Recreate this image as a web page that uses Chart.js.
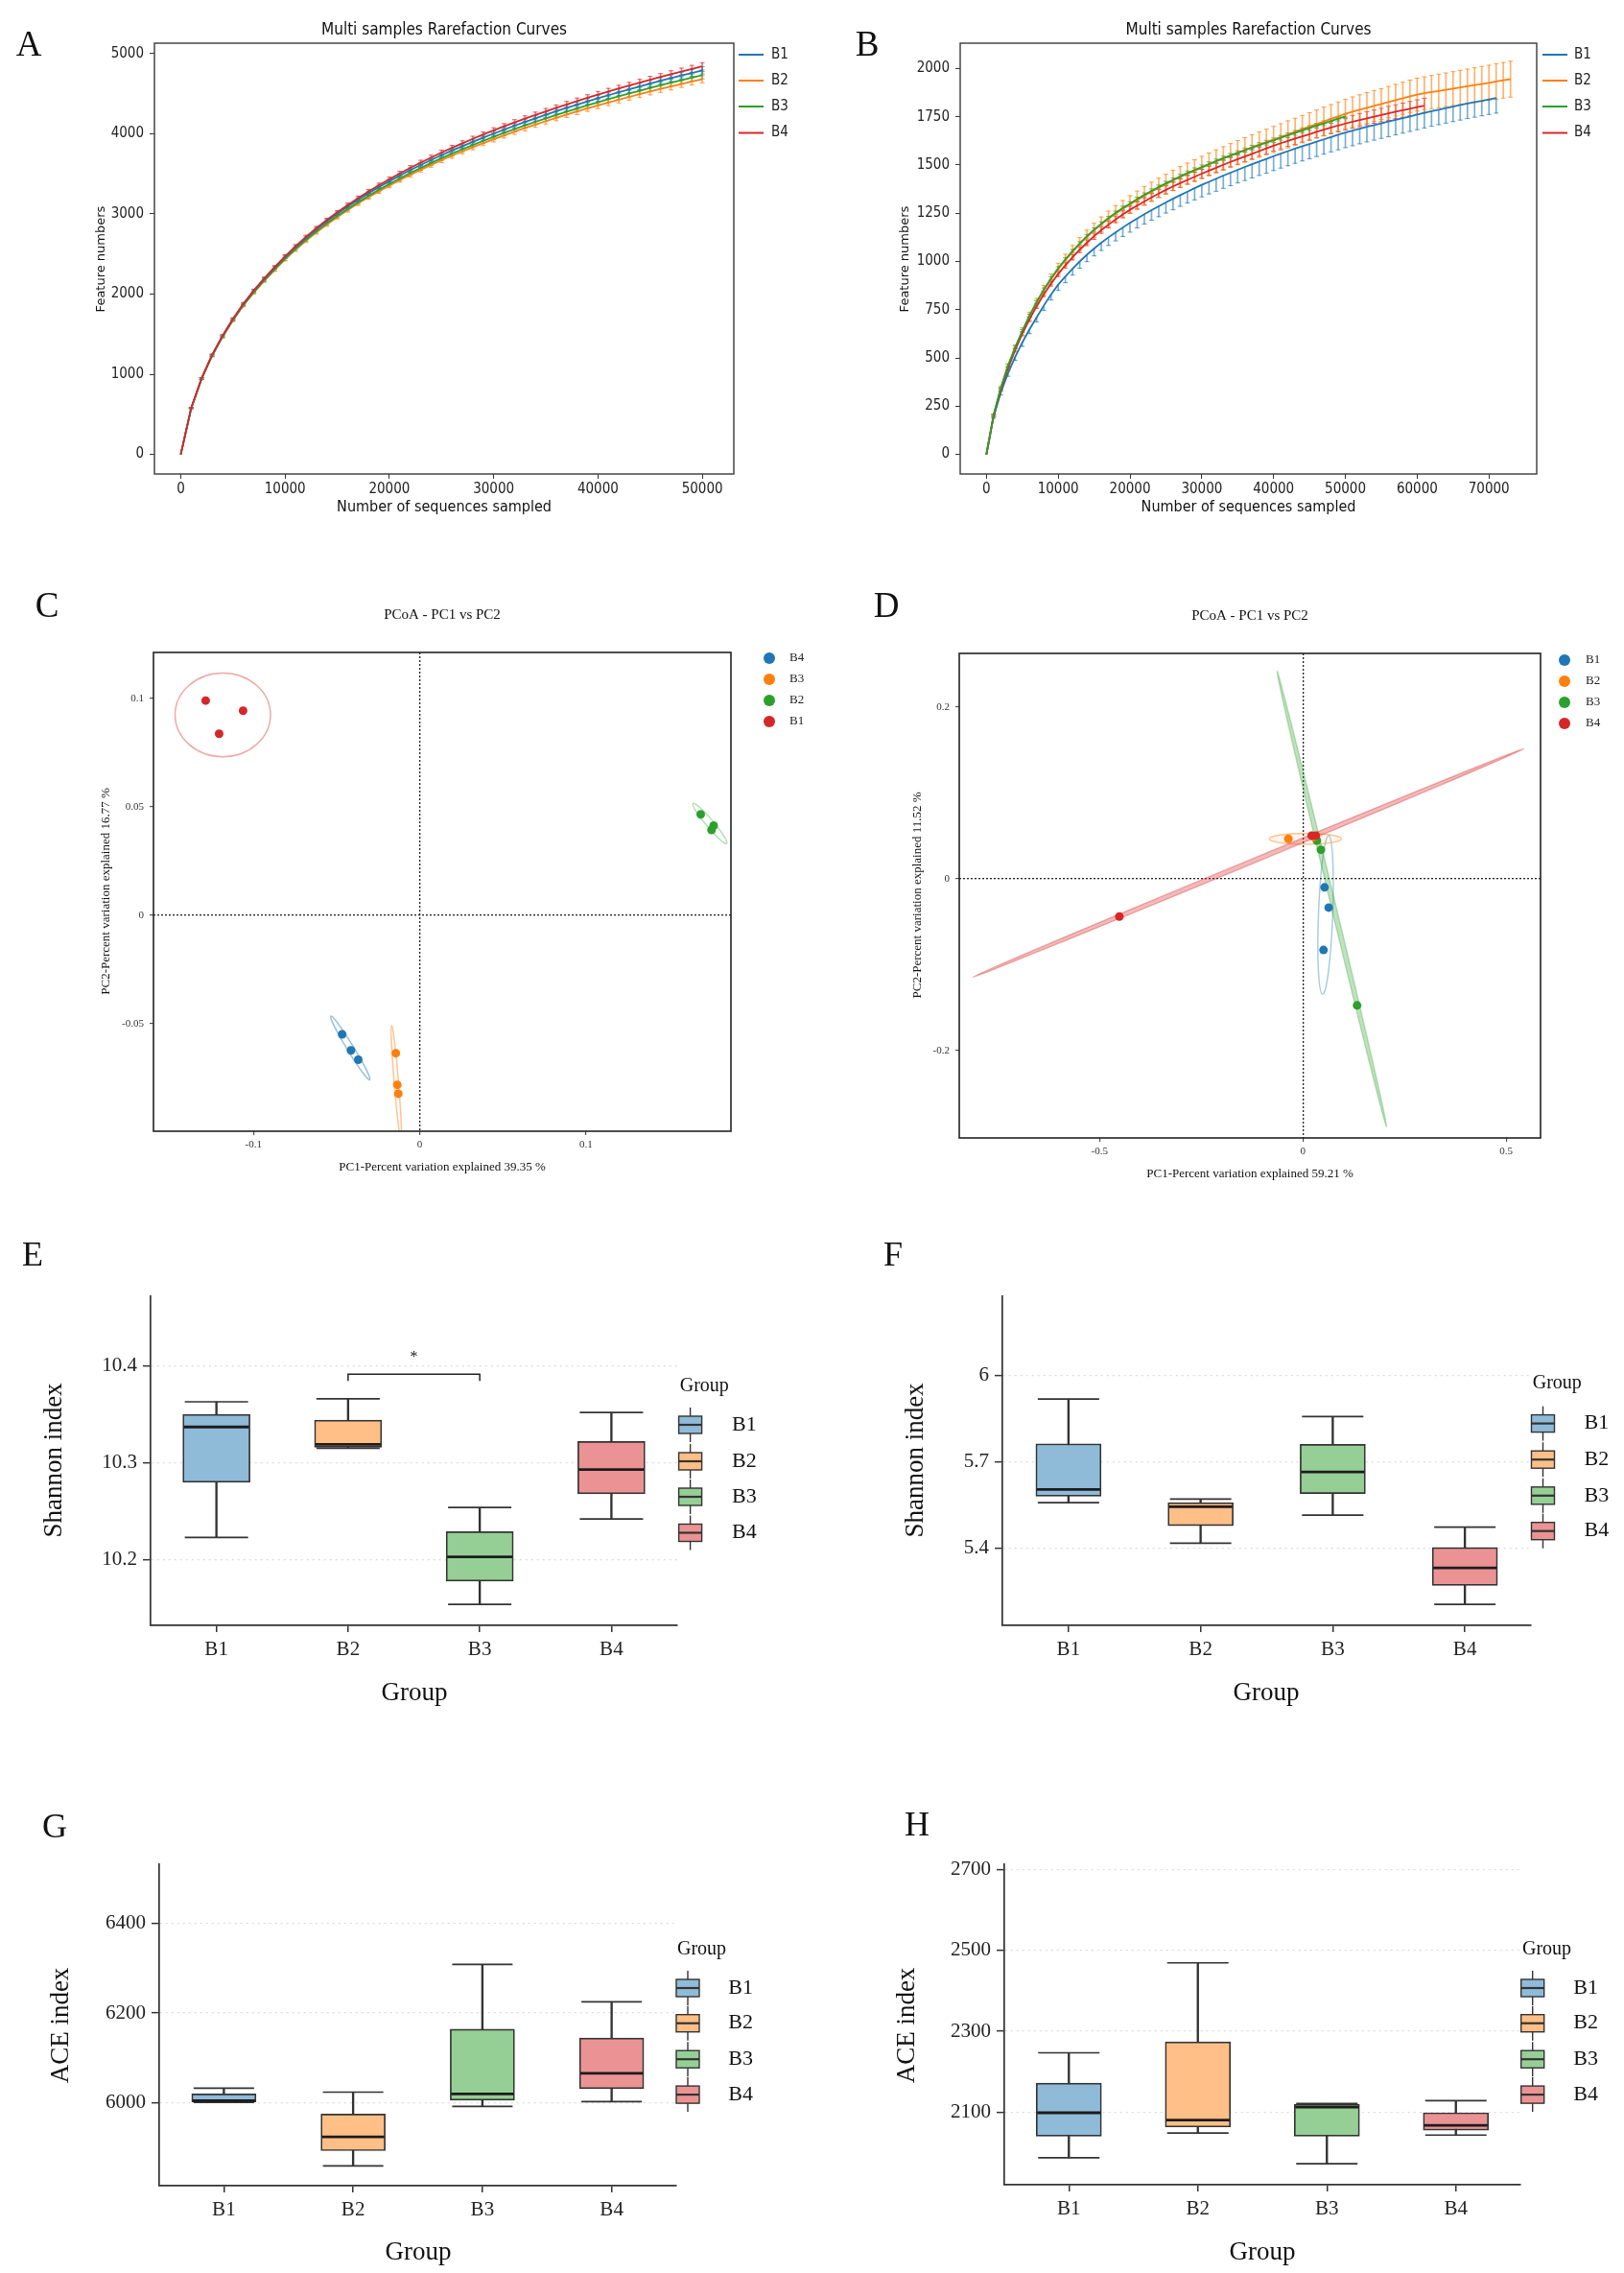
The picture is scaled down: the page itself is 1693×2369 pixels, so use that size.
<!DOCTYPE html>
<html>
<head>
<meta charset="utf-8">
<title>Rarefaction, PCoA and alpha diversity</title>
<script src="https://cdn.jsdelivr.net/npm/chart.js@4.4.0/dist/chart.umd.min.js"></script>
<style>
  html, body { margin: 0; padding: 0; background: #fff; }
  #page { position: relative; width: 1693px; height: 2369px; overflow: hidden; }
  .panel { position: absolute; }
</style>
</head>
<body>
<div id="page">
  <div class="panel" id="pA"><canvas></canvas></div>
  <div class="panel" id="pB"><canvas></canvas></div>
  <div class="panel" id="pC"><canvas></canvas></div>
  <div class="panel" id="pD"><canvas></canvas></div>
  <div class="panel" id="pE"><canvas></canvas></div>
  <div class="panel" id="pF"><canvas></canvas></div>
  <div class="panel" id="pG"><canvas></canvas></div>
  <div class="panel" id="pH"><canvas></canvas></div>
</div>
<script>
// ---------------- data ----------------
var groups = ["B1", "B2", "B3", "B4"];

// sequencing depth of each rarefaction step
var depth = [0,1000,2000,3000,4000,5000,6000,7000,8000,9000,10000,11000,12000,13000,14000,15000,16000,17000,18000,19000,
  20000,21000,22000,23000,24000,25000,26000,27000,28000,29000,30000,31000,32000,33000,34000,35000,36000,37000,38000,39000,
  40000,41000,42000,43000,44000,45000,46000,47000,48000,49000,50000,51000,52000,53000,54000,55000,56000,57000,58000,59000,
  60000,61000,62000,63000,64000,65000,66000,67000,68000,69000,70000,71000,72000,73000];

// panel A - feature numbers
var rareA_B1 = [0,579,948,1237,1476,1685,1874,2038,2187,2327,2461,2584,2699,2806,2907,3001,3091,3176,3257,3333,3407,3477,3545,3609,3671,3731,3789,3844,3898,3950,4000,4050,4099,4145,4191,4235,4279,4321,4362,4402,4441,4479,4517,4553,4589,4624,4659,4692,4725,4757,4789];
var rareA_B2 = [0,576,942,1228,1464,1670,1856,2017,2163,2300,2431,2552,2664,2769,2867,2959,3046,3129,3207,3281,3352,3421,3487,3550,3610,3669,3725,3779,3831,3882,3930,3979,4025,4070,4113,4156,4197,4238,4276,4315,4351,4388,4423,4458,4491,4525,4557,4589,4619,4650,4679];
var rareA_B3 = [0,577,944,1231,1468,1675,1862,2024,2171,2309,2441,2563,2676,2782,2881,2974,3062,3146,3225,3300,3372,3442,3509,3573,3634,3694,3751,3806,3859,3911,3960,4010,4057,4103,4147,4191,4233,4275,4314,4354,4391,4429,4465,4501,4535,4570,4603,4636,4667,4699,4729];
var rareA_B4 = [0,580,950,1240,1480,1690,1880,2045,2195,2336,2471,2596,2712,2821,2923,3019,3110,3197,3279,3357,3432,3504,3573,3639,3702,3764,3823,3880,3935,3989,4040,4091,4140,4187,4233,4278,4322,4365,4406,4447,4486,4525,4563,4600,4636,4672,4707,4741,4774,4807,4839];
var errA = [0,8,10,12,13,14,15,16,17,18,19,20,21,22,22,23,24,25,25,26,27,27,28,29,29,30,31,31,32,32,33,34,34,35,35,36,36,37,38,38,39,39,40,40,41,42,42,43,43,44,45];

// panel B - feature numbers
var rareB_B1 = [0,195,320,420,505,580,648,710,772,828,880,922,962,1000,1035,1067,1097,1125,1151,1176,1200,1223,1245,1266,1286,1306,1325,1344,1362,1380,1397,1413,1429,1445,1460,1475,1490,1504,1518,1532,1546,1559,1572,1585,1597,1609,1621,1633,1645,1657,1668,1678,1688,1698,1707,1716,1725,1734,1743,1752,1761,1770,1779,1787,1795,1803,1811,1819,1826,1833,1840,1847];
var rareB_B2 = [0,202,342,457,552,637,716,786,851,908,961,1007,1050,1090,1127,1161,1192,1221,1248,1273,1296,1319,1341,1362,1382,1401,1420,1438,1455,1471,1487,1503,1519,1534,1549,1564,1578,1592,1606,1619,1632,1645,1659,1672,1686,1699,1712,1726,1739,1752,1765,1776,1786,1796,1806,1816,1826,1836,1846,1856,1865,1872,1878,1884,1890,1896,1902,1908,1914,1920,1926,1933,1939,1945];
var rareB_B3 = [0,205,345,460,555,640,720,790,855,912,965,1011,1054,1094,1131,1165,1196,1225,1252,1277,1300,1323,1345,1366,1386,1405,1423,1441,1458,1474,1489,1505,1520,1535,1549,1563,1577,1590,1603,1616,1628,1641,1654,1667,1680,1692,1704,1716,1728,1740,1752];
var rareB_B4 = [0,200,335,445,540,625,700,768,830,885,935,980,1022,1061,1097,1131,1162,1191,1218,1244,1268,1290,1311,1332,1352,1371,1389,1406,1423,1439,1455,1471,1486,1501,1516,1530,1544,1558,1572,1586,1600,1613,1625,1637,1649,1660,1672,1683,1694,1705,1715,1724,1733,1742,1751,1759,1768,1776,1784,1792,1800,1808];
// B1 bars only hang below its curve, the others are symmetric
var errB_B1 = [0,8,12,15,18,20,22,24,26,28,30,32,33,35,36,38,40,42,44,46,48,49,51,52,54,55,57,58,59,61,62,63,65,66,67,68,70,71,72,74,75,75,76,76,76,77,77,77,77,78,78,78,78,78,78,78,78,78,78,78,78,78,78,78,78,78,78,78,78,78,78,78];
var errB_B2 = [0,6,10,13,16,19,21,23,25,27,30,31,33,34,36,37,39,40,42,43,45,46,48,49,50,51,53,54,55,56,58,59,60,61,62,63,64,65,66,67,68,69,70,70,71,72,73,74,74,75,76,77,78,79,80,80,81,82,83,84,85,85,86,87,87,88,89,89,90,91,91,92,92,93];
var errB_B3 = [0,4,5,6,6,7,7,7,8,8,8,8,8,9,9,9,9,9,9,10,10,10,10,10,10,10,10,11,11,11,11,11,11,11,11,11,11,12,12,12,12,12,12,12,12,12,12,12,12,12,12];
var errB_B4 = [0,5,7,8,9,10,11,11,12,12,13,14,14,15,15,16,16,17,17,18,18,19,19,20,20,21,21,22,22,23,23,24,24,25,25,26,26,27,27,28,28,29,29,30,30,31,31,32,32,33,33,33,34,34,35,35,36,36,37,37,38,38];

var tickA_x = [0, 10000, 20000, 30000, 40000, 50000];
var tickA_y = [0, 1000, 2000, 3000, 4000, 5000];
var tickB_x = [0, 10000, 20000, 30000, 40000, 50000, 60000, 70000];
var tickB_y = [0, 250, 500, 750, 1000, 1250, 1500, 1750, 2000];

// panel C - PCoA scores (legend order of the original: B4, B3, B2, B1)
var legendC = ["B4", "B3", "B2", "B1"];
var pcC_B4 = [[-0.0467, -0.0549], [-0.0414, -0.0623], [-0.0370, -0.0666]];
var pcC_B3 = [[-0.0144, -0.0636], [-0.0135, -0.0782], [-0.0129, -0.0823]];
var pcC_B2 = [[0.1690, 0.0466], [0.1768, 0.0414], [0.1755, 0.0394]];
var pcC_B1 = [[-0.1288, 0.0991], [-0.1063, 0.0944], [-0.1207, 0.0838]];
// confidence ellipses: centre x, centre y, half axis 1, half axis 2, angle (deg)
var ellC_B4 = [-0.0418, -0.0612, 0.0188, 0.0018, -51.4];
var ellC_B3 = [-0.0141, -0.0771, 0.0265, 0.0013, -83.9];
var ellC_B2 = [0.1745, 0.0424, 0.0137, 0.0020, -42.0];
var ellC_B1 = [-0.1185, 0.0925, 0.0287, 0.0193, 0];
var tickC_x = [-0.1, 0, 0.1];
var tickC_y = [-0.05, 0, 0.05, 0.1];

// panel D - PCoA scores
var legendD = ["B1", "B2", "B3", "B4"];
var pcD_B1 = [[0.0534, -0.0099], [0.0635, -0.0334], [0.0508, -0.0828]];
var pcD_B2 = [[-0.0356, 0.0466], [0.0250, 0.0500], [0.0280, 0.0490]];
var pcD_B3 = [[0.0343, 0.0447], [0.0445, 0.0339], [0.1334, -0.1473]];
var pcD_B4 = [[0.0216, 0.0504], [0.0318, 0.0504], [-0.4511, -0.0438]];
var ellD_B1 = [0.0559, -0.0419, 0.0926, 0.0175, 85.3];
var ellD_B2 = [0.0064, 0.0466, 0.0890, 0.0064, 0];
var ellD_B3 = [0.0712, -0.0233, 0.2974, 0.0054, -63.1];
var ellD_B4 = [-0.1340, 0.0186, 0.6896, 0.0028, 11.1];
var tickD_x = [-0.5, 0, 0.5];
var tickD_y = [-0.2, 0, 0.2];

// panels E-H - box statistics per group: [min, q1, median, q3, max]
var shannonE = [[10.223, 10.280, 10.337, 10.350, 10.363], [10.315, 10.316, 10.319, 10.344, 10.366],
                [10.154, 10.178, 10.203, 10.229, 10.254], [10.242, 10.268, 10.293, 10.322, 10.352]];
var shannonF = [[5.558, 5.581, 5.604, 5.763, 5.919], [5.417, 5.478, 5.544, 5.558, 5.571],
                [5.515, 5.590, 5.665, 5.761, 5.858], [5.204, 5.270, 5.331, 5.402, 5.473]];
var aceG = [[6000, 6001, 6004, 6019, 6032], [5858, 5892, 5923, 5974, 6023],
            [5991, 6005, 6019, 6164, 6309], [6002, 6031, 6065, 6144, 6225]];
var aceH = [[1988, 2041, 2099, 2172, 2247], [2049, 2064, 2081, 2274, 2469],
            [1973, 2041, 2113, 2120, 2122], [2044, 2056, 2068, 2099, 2129]];
var tickE_y = [10.2, 10.3, 10.4];
var tickF_y = [5.4, 5.7, 6];
var tickG_y = [6000, 6200, 6400];
var tickH_y = [2100, 2300, 2500, 2700];
// significance bracket in E: B2 vs B3, foot / top of bracket, star height
var sigPairE = ["B2", "B3"];
var sigLevelsE = [10.3846, 10.3915, 10.4085];

// ---------------- styles ----------------
var SERIF = "'Liberation Serif', 'Times New Roman', serif";
var NARROW = "'Liberation Sans Narrow', 'DejaVu Sans Condensed', 'DejaVu Sans', sans-serif";
var SANS = "'DejaVu Sans', sans-serif";
var palette = ["#1f77b4", "#ff7f0e", "#2ca02c", "#d62728"];
var boxFill = ["#8fbbd9", "#ffbf86", "#95cf95", "#eb9394"];

Chart.defaults.animation = false;
Chart.defaults.events = [];
Chart.defaults.plugins.legend.display = false;
Chart.defaults.plugins.tooltip.enabled = false;
Chart.defaults.maintainAspectRatio = false;

function fade(hex, a) {
  var n = parseInt(hex.slice(1), 16);
  return "rgba(" + ((n >> 16) & 255) + "," + ((n >> 8) & 255) + "," + (n & 255) + "," + a + ")";
}

// place the holder div on the page and return its canvas
function setup(id, box) {
  var el = document.getElementById(id);
  el.style.left = box.l + "px";
  el.style.top = box.t + "px";
  el.style.width = box.w + "px";
  el.style.height = box.h + "px";
  return el.querySelector("canvas");
}

function padding(box, area) {
  return { left: 0, top: area.T - box.t, right: box.l + box.w - area.R, bottom: 0 };
}

function fixedTicks(list) {
  return function (s) {
    s.ticks = list.map(function (v) { return { value: v }; });
  };
}

// free text: panel letters, titles, axis titles
function notesPlugin(box, items) {
  return {
    id: "notes",
    afterDraw: function (chart) {
      var ctx = chart.ctx;
      items.forEach(function (it) {
        ctx.save();
        ctx.font = it.font;
        ctx.fillStyle = it.color || "#111";
        ctx.textAlign = it.align || "center";
        ctx.textBaseline = "middle";
        ctx.translate(it.x - box.l, it.y - box.t);
        if (it.rot) ctx.rotate(it.rot);
        ctx.fillText(it.text, 0, 0);
        ctx.restore();
      });
    }
  };
}

var framePlugin = {
  id: "frame",
  afterDatasetsDraw: function (chart, args, opts) {
    var a = chart.chartArea, ctx = chart.ctx;
    ctx.save();
    ctx.strokeStyle = opts.color || "#333";
    ctx.lineWidth = opts.width || 1.3;
    ctx.strokeRect(a.left, a.top, a.right - a.left, a.bottom - a.top);
    ctx.restore();
  }
};

// ---------------- rarefaction curves (A, B) ----------------
function lineLegend(box, spec) {
  return {
    id: "lineLegend",
    afterDraw: function (chart) {
      var ctx = chart.ctx;
      groups.forEach(function (g, i) {
        var y = spec.rows[i] - box.t;
        ctx.save();
        ctx.strokeStyle = palette[i];
        ctx.lineWidth = 2;
        ctx.beginPath();
        ctx.moveTo(spec.x0 - box.l, y);
        ctx.lineTo(spec.x1 - box.l, y);
        ctx.stroke();
        ctx.fillStyle = "#222";
        ctx.font = "15px " + NARROW;
        ctx.textAlign = "left";
        ctx.textBaseline = "middle";
        ctx.fillText(g, spec.tx - box.l, y);
        ctx.restore();
      });
    }
  };
}

// lineOrder: drawing rank of each curve, 0 = on top
function rarefaction(id, box, area, series, errLo, errHi, lineOrder, xr, yr, xTicks, yTicks, notes, legend) {
  var ds = [];
  groups.forEach(function (g, i) {
    var ys = series[i], lo = errLo[i], hi = errHi[i];
    var col = palette[i];
    ds.push({
      type: "line", label: g,
      data: ys.map(function (v, k) { return { x: depth[k], y: v }; }),
      borderColor: col, borderWidth: 1.8, pointRadius: 0, order: lineOrder[i] / 10
    });
    ds.push({
      type: "bar",
      data: ys.map(function (v, k) { return { x: depth[k], y: [v - lo[k], v + (hi ? hi[k] : 0)] }; }),
      backgroundColor: fade(col, 0.6), barThickness: 1, grouped: false, order: 2
    });
    var caps = [];
    ys.forEach(function (v, k) {
      if (lo[k] > 0) caps.push({ x: depth[k], y: v - lo[k] });
      if (hi && hi[k] > 0) caps.push({ x: depth[k], y: v + hi[k] });
    });
    ds.push({
      type: "line", data: caps, showLine: false, pointStyle: "line",
      pointRadius: 2.5, pointBorderWidth: 1, pointBorderColor: fade(col, 0.7), order: 2
    });
  });

  new Chart(setup(id, box), {
    type: "line",
    data: { datasets: ds },
    options: {
      responsive: true,
      layout: { padding: padding(box, area) },
      scales: {
        x: {
          type: "linear", min: xr[0], max: xr[1], offset: false,
          grid: { drawOnChartArea: false, offset: false, color: "#333", tickLength: 5 },
          border: { display: false },
          afterBuildTicks: fixedTicks(xTicks),
          ticks: { font: { family: NARROW, size: 15 }, color: "#222", padding: 2, maxRotation: 0, autoSkip: false,
                   callback: function (v) { return String(v); } },
          afterFit: function (s) { s.height = box.t + box.h - area.B; }
        },
        y: {
          type: "linear", min: yr[0], max: yr[1],
          grid: { drawOnChartArea: false, color: "#333", tickLength: 5 },
          border: { display: false },
          afterBuildTicks: fixedTicks(yTicks),
          ticks: { font: { family: NARROW, size: 15 }, color: "#222", padding: 6, autoSkip: false,
                   callback: function (v) { return String(v); } },
          afterFit: function (s) { s.width = area.L - box.l; }
        }
      },
      plugins: { frame: { color: "#3a3a3a", width: 1.4 } }
    },
    plugins: [framePlugin, lineLegend(box, legend), notesPlugin(box, notes)]
  });
}

// ---------------- PCoA (C, D) ----------------
function ellipsePlugin(list, colors, fillAlpha, strokeAlpha, lineW) {
  return {
    id: "ellipses",
    beforeDatasetsDraw: function (chart) {
      var ctx = chart.ctx, xs = chart.scales.x, ys = chart.scales.y, a = chart.chartArea;
      ctx.save();
      ctx.beginPath();
      ctx.rect(a.left, a.top, a.right - a.left, a.bottom - a.top);
      ctx.clip();
      list.forEach(function (e, i) {
        var px = xs.getPixelForValue(e[0]), py = ys.getPixelForValue(e[1]);
        var kx = xs.getPixelForValue(e[0] + 1) - px;
        var ky = ys.getPixelForValue(e[1] + 1) - py;
        ctx.beginPath();
        ctx.save();
        ctx.translate(px, py);
        ctx.scale(kx, ky);
        ctx.rotate(e[4] * Math.PI / 180);
        ctx.ellipse(0, 0, e[2], e[3], 0, 0, 2 * Math.PI);
        ctx.restore();
        if (fillAlpha[i] > 0) {
          ctx.fillStyle = fade(colors[i], fillAlpha[i]);
          ctx.fill();
        }
        ctx.strokeStyle = fade(colors[i], strokeAlpha[i]);
        ctx.lineWidth = lineW;
        ctx.stroke();
      });
      ctx.restore();
    }
  };
}

function dotLegend(box, names, spec) {
  return {
    id: "dotLegend",
    afterDraw: function (chart) {
      var ctx = chart.ctx;
      names.forEach(function (g, i) {
        var y = spec.rows[i] - box.t;
        ctx.save();
        ctx.fillStyle = palette[i];
        ctx.beginPath();
        ctx.arc(spec.dx - box.l, y, 6, 0, 2 * Math.PI);
        ctx.fill();
        ctx.fillStyle = "#222";
        ctx.font = "13px " + SERIF;
        ctx.textAlign = "left";
        ctx.textBaseline = "middle";
        ctx.fillText(g, spec.tx - box.l, y);
        ctx.restore();
      });
    }
  };
}

function zeroLine(c) {
  return c.tick && c.tick.value === 0 ? "#222" : "rgba(0,0,0,0)";
}

function pcoa(id, box, area, names, sets, ells, fillAlpha, strokeAlpha, lineW, topIndex, xr, yr, xTicks, yTicks, notes, legend) {
  var ds = sets.map(function (pts, i) {
    return {
      label: names[i],
      data: pts.map(function (p) { return { x: p[0], y: p[1] }; }),
      backgroundColor: palette[i], pointRadius: 4.5, pointBorderWidth: 0,
      order: i === topIndex ? 0 : 1
    };
  });
  var axisFont = { family: SERIF, size: 11 };
  new Chart(setup(id, box), {
    type: "scatter",
    data: { datasets: ds },
    options: {
      responsive: true,
      layout: { padding: padding(box, area) },
      scales: {
        x: {
          type: "linear", min: xr[0], max: xr[1],
          grid: { color: zeroLine, lineWidth: 1.3, tickColor: "#333", tickLength: 4, tickWidth: 1 },
          border: { display: false, dash: [2, 2] },
          afterBuildTicks: fixedTicks(xTicks),
          ticks: { font: axisFont, color: "#333", padding: 4, maxRotation: 0, autoSkip: false,
                   callback: function (v) { return String(v); } },
          afterFit: function (s) { s.height = box.t + box.h - area.B; }
        },
        y: {
          type: "linear", min: yr[0], max: yr[1],
          grid: { color: zeroLine, lineWidth: 1.3, tickColor: "#333", tickLength: 4, tickWidth: 1 },
          border: { display: false, dash: [2, 2] },
          afterBuildTicks: fixedTicks(yTicks),
          ticks: { font: axisFont, color: "#333", padding: 6, autoSkip: false,
                   callback: function (v) { return String(v); } },
          afterFit: function (s) { s.width = area.L - box.l; }
        }
      },
      plugins: { frame: { color: "#222", width: 1.6 } }
    },
    plugins: [ellipsePlugin(ells, palette, fillAlpha, strokeAlpha, lineW), framePlugin,
              dotLegend(box, names, legend), notesPlugin(box, notes)]
  });
}

// ---------------- box plots (E-H) ----------------
function groupLegend(box, spec) {
  return {
    id: "groupLegend",
    afterDraw: function (chart) {
      var ctx = chart.ctx;
      ctx.save();
      ctx.fillStyle = "#111";
      ctx.font = "20px " + SERIF;
      ctx.textAlign = "left";
      ctx.textBaseline = "middle";
      ctx.fillText("Group", spec.titleX - box.l, spec.titleY - box.t);
      groups.forEach(function (g, i) {
        var cx = spec.gx - box.l, cy = spec.rows[i] - box.t;
        ctx.strokeStyle = "#333";
        ctx.lineWidth = 1.4;
        ctx.beginPath();
        ctx.moveTo(cx, cy - 18);
        ctx.lineTo(cx, cy + 18);
        ctx.stroke();
        ctx.fillStyle = boxFill[i];
        ctx.fillRect(cx - 12, cy - 9, 24, 18);
        ctx.strokeRect(cx - 12, cy - 9, 24, 18);
        ctx.lineWidth = 2.2;
        ctx.beginPath();
        ctx.moveTo(cx - 12, cy);
        ctx.lineTo(cx + 12, cy);
        ctx.stroke();
        ctx.fillStyle = "#111";
        ctx.font = "22px " + SERIF;
        ctx.fillText(g, spec.tx - box.l, cy);
      });
      ctx.restore();
    }
  };
}

function boxplot(id, box, area, stats, yr, yTicks, barW, notes, legend, extraSets, extraPlugins) {
  var caps = [];
  stats.forEach(function (s, i) {
    caps.push({ x: groups[i], y: s[0] });
    caps.push({ x: groups[i], y: s[4] });
  });
  var ds = [
    {
      type: "line", showLine: false, pointStyle: "line",
      data: stats.map(function (s, i) { return { x: groups[i], y: s[2] }; }),
      pointRadius: barW / 2 - 1, pointBorderWidth: 2.8, pointBorderColor: "#1c1c1c", order: 0
    },
    {
      type: "line", showLine: false, pointStyle: "line", data: caps,
      pointRadius: barW / 2 - 2, pointBorderWidth: 1.7, pointBorderColor: "#333", order: 1
    },
    {
      type: "bar", data: stats.map(function (s) { return [s[1], s[3]]; }),
      backgroundColor: boxFill, borderColor: "#333", borderWidth: 1.7, borderSkipped: false,
      barThickness: barW, grouped: false, order: 2
    },
    {
      type: "bar", data: stats.map(function (s) { return [s[0], s[4]]; }),
      backgroundColor: "#333", barThickness: 1.7, grouped: false, order: 3
    }
  ].concat(extraSets || []);

  var tickFont = { family: SERIF, size: 21 };
  new Chart(setup(id, box), {
    type: "bar",
    data: { labels: groups, datasets: ds },
    options: {
      responsive: true,
      layout: { padding: padding(box, area) },
      scales: {
        x: {
          type: "category", offset: true,
          grid: { drawOnChartArea: false, offset: false, color: "#333", lineWidth: 1.5, tickLength: 7 },
          border: { display: true, color: "#333", width: 1.7 },
          ticks: { font: tickFont, color: "#222", padding: 6, maxRotation: 0 },
          afterFit: function (s) { s.height = box.t + box.h - area.B; }
        },
        y: {
          type: "linear", min: yr[0], max: yr[1],
          grid: { color: "#dcdcdc", lineWidth: 1.3, tickColor: "#333", tickWidth: 1.5, tickLength: 8 },
          border: { display: true, color: "#333", width: 1.7, dash: [2, 4] },
          afterBuildTicks: fixedTicks(yTicks),
          ticks: { font: tickFont, color: "#222", padding: 6, autoSkip: false,
                   callback: function (v) { return String(v); } },
          afterFit: function (s) { s.width = area.L - box.l; }
        }
      }
    },
    plugins: [groupLegend(box, legend), notesPlugin(box, notes)].concat(extraPlugins || [])
  });
}

// ---------------- build the eight panels ----------------
var rot = -Math.PI / 2;

// A (B4 curve drawn on top)
var boxA = { l: 0, t: 0, w: 846, h: 565 }, areaA = { L: 161, T: 45, R: 765, B: 494 };
rarefaction("pA", boxA, areaA,
  [rareA_B1, rareA_B2, rareA_B3, rareA_B4], [errA, errA, errA, errA], [errA, errA, errA, errA], [1, 3, 2, 0],
  [-2525, 53025], [-244, 5128], tickA_x, tickA_y,
  [
    { text: "A", x: 30, y: 48, font: "37px " + SERIF },
    { text: "Multi samples Rarefaction Curves", x: 463, y: 32, font: "17px " + NARROW },
    { text: "Feature numbers", x: 106, y: 270, rot: rot, font: "13px " + SANS },
    { text: "Number of sequences sampled", x: 463, y: 529, font: "16px " + NARROW }
  ],
  { x0: 770, x1: 796, tx: 804, rows: [57, 84, 111, 138.5] });

// B (B3 curve drawn on top, B2 underneath)
var boxB = { l: 846, t: 0, w: 847, h: 565 }, areaB = { L: 1001, T: 45, R: 1602, B: 494 };
rarefaction("pB", boxB, areaB,
  [rareB_B1, rareB_B2, rareB_B3, rareB_B4], [errB_B1, errB_B2, errB_B3, errB_B4], [null, errB_B2, errB_B3, errB_B4], [2, 3, 0, 1],
  [-3650, 76650], [-101.5, 2131.5], tickB_x, tickB_y,
  [
    { text: "B", x: 904, y: 48, font: "37px " + SERIF },
    { text: "Multi samples Rarefaction Curves", x: 1301.5, y: 32, font: "17px " + NARROW },
    { text: "Feature numbers", x: 944, y: 270, rot: rot, font: "13px " + SANS },
    { text: "Number of sequences sampled", x: 1301.5, y: 529, font: "16px " + NARROW }
  ],
  { x0: 1608, x1: 1634, tx: 1641, rows: [57, 84, 111, 138.5] });

// C
var boxC = { l: 0, t: 575, w: 846, h: 675 }, areaC = { L: 160, T: 680, R: 762, B: 1179 };
pcoa("pC", boxC, areaC, legendC, [pcC_B4, pcC_B3, pcC_B2, pcC_B1],
  [ellC_B4, ellC_B3, ellC_B2, ellC_B1], [0, 0, 0, 0], [0.45, 0.45, 0.35, 0.4], 1.5, -1,
  [-0.1602, 0.1872], [-0.0996, 0.1213], tickC_x, tickC_y,
  [
    { text: "C", x: 49, y: 633, font: "37px " + SERIF },
    { text: "PCoA - PC1 vs PC2", x: 461, y: 641, font: "15px " + SERIF },
    { text: "PC2-Percent variation explained 16.77 %", x: 111, y: 929, rot: rot, font: "13px " + SERIF },
    { text: "PC1-Percent variation explained 39.35 %", x: 461, y: 1217, font: "13px " + SERIF }
  ],
  { dx: 802, tx: 823, rows: [686, 708, 730, 752] });

// D
var boxD = { l: 846, t: 575, w: 847, h: 675 }, areaD = { L: 1000, T: 681, R: 1606, B: 1186 };
pcoa("pD", boxD, areaD, legendD, [pcD_B1, pcD_B2, pcD_B3, pcD_B4],
  [ellD_B1, ellD_B2, ellD_B3, ellD_B4], [0, 0.08, 0.3, 0.32], [0.4, 0.45, 0.3, 0.35], 1.4, 3,
  [-0.8448, 0.5844], [-0.3017, 0.2626], tickD_x, tickD_y,
  [
    { text: "D", x: 924, y: 633, font: "37px " + SERIF },
    { text: "PCoA - PC1 vs PC2", x: 1303, y: 642, font: "15px " + SERIF },
    { text: "PC2-Percent variation explained 11.52 %", x: 957, y: 933, rot: rot, font: "13px " + SERIF },
    { text: "PC1-Percent variation explained 59.21 %", x: 1303, y: 1224, font: "13px " + SERIF }
  ],
  { dx: 1631, tx: 1653, rows: [688, 710, 732, 754] });

// E, with the B2-B3 significance bracket
var boxE = { l: 0, t: 1262, w: 846, h: 538 }, areaE = { L: 157, T: 1351, R: 706, B: 1694 };
var bracketE = {
  type: "line", order: 0, borderColor: "#222", borderWidth: 1.5, pointRadius: 0,
  data: [
    { x: sigPairE[0], y: sigLevelsE[0] }, { x: sigPairE[0], y: sigLevelsE[1] },
    { x: sigPairE[1], y: sigLevelsE[1] }, { x: sigPairE[1], y: sigLevelsE[0] }
  ]
};
var starE = {
  id: "star",
  afterDatasetsDraw: function (chart) {
    var ctx = chart.ctx, xs = chart.scales.x, ys = chart.scales.y;
    var x = (xs.getPixelForValue(groups.indexOf(sigPairE[0])) + xs.getPixelForValue(groups.indexOf(sigPairE[1]))) / 2;
    ctx.save();
    ctx.fillStyle = "#222";
    ctx.font = "16px " + SERIF;
    ctx.textAlign = "center";
    ctx.textBaseline = "middle";
    ctx.fillText("*", x, ys.getPixelForValue(sigLevelsE[2]));
    ctx.restore();
  }
};
boxplot("pE", boxE, areaE, shannonE, [10.1323, 10.4719], tickE_y, 70,
  [
    { text: "E", x: 34, y: 1310, font: "36px " + SERIF },
    { text: "Shannon index", x: 57, y: 1522, rot: rot, font: "27px " + SERIF },
    { text: "Group", x: 432, y: 1765, font: "27px " + SERIF }
  ],
  { titleX: 708.7, titleY: 1444.6, gx: 719.6, tx: 763, rows: [1485, 1523, 1560, 1597.5] },
  [bracketE], [starE]);

// F
var boxF = { l: 846, t: 1262, w: 847, h: 538 }, areaF = { L: 1045, T: 1351, R: 1596, B: 1694 };
boxplot("pF", boxF, areaF, shannonF, [5.131, 6.277], tickF_y, 68,
  [
    { text: "F", x: 931, y: 1310, font: "36px " + SERIF },
    { text: "Shannon index", x: 955, y: 1522, rot: rot, font: "27px " + SERIF },
    { text: "Group", x: 1320, y: 1765, font: "27px " + SERIF }
  ],
  { titleX: 1597.7, titleY: 1442.2, gx: 1608.5, tx: 1651.6, rows: [1483.6, 1521.2, 1558.8, 1595.7] });

// G
var boxG = { l: 0, t: 1822, w: 846, h: 547 }, areaG = { L: 166, T: 1943, R: 705, B: 2278 };
boxplot("pG", boxG, areaG, aceG, [5813.7, 6533], tickG_y, 67,
  [
    { text: "G", x: 57, y: 1906, font: "36px " + SERIF },
    { text: "ACE index", x: 64, y: 2111, rot: rot, font: "27px " + SERIF },
    { text: "Group", x: 436, y: 2348, font: "27px " + SERIF }
  ],
  { titleX: 706, titleY: 2032.2, gx: 717, tx: 759.3, rows: [2072, 2108.7, 2146.2, 2183.1] });

// H
var boxH = { l: 846, t: 1822, w: 847, h: 547 }, areaH = { L: 1047, T: 1943, R: 1585, B: 2277 };
boxplot("pH", boxH, areaH, aceH, [1921.4, 2712.3], tickH_y, 68,
  [
    { text: "H", x: 956, y: 1904, font: "36px " + SERIF },
    { text: "ACE index", x: 946, y: 2111, rot: rot, font: "27px " + SERIF },
    { text: "Group", x: 1316, y: 2348, font: "27px " + SERIF }
  ],
  { titleX: 1587, titleY: 2032.2, gx: 1597.7, tx: 1640.3, rows: [2072, 2108.7, 2146.2, 2183.1] });
</script>
</body>
</html>
